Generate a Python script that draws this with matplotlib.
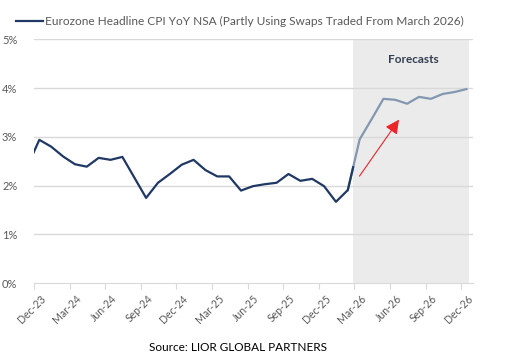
import matplotlib
matplotlib.use("Agg")
import matplotlib.pyplot as plt
import matplotlib.transforms as mtransforms
import numpy as np

# monthly CPI YoY (%), Nov-23 .. Feb-26 actual, Feb-26 .. Dec-26 forecast
hist_vals = [2.40, 2.94, 2.80, 2.60, 2.44, 2.39, 2.57, 2.53, 2.59, 2.17, 1.75,
             2.06, 2.24, 2.43, 2.53, 2.32, 2.19, 2.19, 1.90, 1.99, 2.03, 2.06,
             2.24, 2.10, 2.14, 1.99, 1.67, 1.91]
fcst_vals = [1.91, 2.95, 3.36, 3.78, 3.76, 3.68, 3.82, 3.78, 3.88, 3.92, 3.98]
tick_labels = ["Dec-23", "Mar-24", "Jun-24", "Sep-24", "Dec-24", "Mar-25", "Jun-25",
               "Sep-25", "Dec-25", "Mar-26", "Jun-26", "Sep-26", "Dec-26"]
yticks = [0, 1, 2, 3, 4, 5]

# x in months from Dec-23 tick; data points sit mid-month
off = 0.45
hx = np.arange(len(hist_vals)) - 1 + off
fx = np.arange(len(fcst_vals)) + 26 + off
shade_start, shade_end = 26.9, 36.65

navy = "#203864"
light = "#8497b0"
grey_txt = "#595959"

plt.rcParams["font.family"] = ["Lato", "DejaVu Sans"]

fig = plt.figure(figsize=(5.11, 3.59), dpi=100)
ax = fig.add_axes([0.0665, 0.2109, 0.8591, 0.6796])

ax.axvspan(shade_start, shade_end, color="#ebebeb", zorder=0, lw=0)
for y in yticks[1:]:
    ax.axhline(y, color="#d9d9d9", lw=1, zorder=1)

# dark line up to the start of the shaded area
edge_y = np.interp(shade_start, fx, fcst_vals)
dx = np.append(hx, shade_start)
dy = np.append(hist_vals, edge_y)
ax.plot(fx, fcst_vals, color=light, lw=1.6, zorder=3)
ax.plot(dx, dy, color=navy, lw=1.6, zorder=4,
        label="Eurozone Headline CPI YoY NSA (Partly Using Swaps Traded From March 2026)")

ax.annotate("", xy=(30.9, 3.40), xytext=(27.3, 2.15),
            arrowprops=dict(arrowstyle="-|>,head_length=0.6,head_width=0.3",
                            color="#e8262b", lw=0.8, mutation_scale=14), zorder=5)
ax.text(32.0, 4.58, "Forecasts", ha="center", va="center", fontsize=8.5,
        fontweight="bold", color="#333f50")

ax.set_xlim(0, 37)
ax.set_ylim(0, 5)
xt = np.arange(0, 37, 3)
ax.set_xticks(xt)
ax.set_xticklabels([])
# rotated date labels, hanging just right of each tick
shift = mtransforms.ScaledTranslation(6 / 100, -10 / 100, fig.dpi_scale_trans)
for x, lab in zip(xt, tick_labels):
    ax.text(x, 0, lab, transform=ax.get_xaxis_transform() + shift,
            rotation=45, ha="right", va="top", rotation_mode="anchor",
            fontsize=7.6, color=grey_txt, clip_on=False)
ax.set_yticks(yticks)
ax.set_yticklabels([f"{v}%" for v in yticks], fontsize=8, color=grey_txt)
ax.tick_params(axis="y", length=0, pad=12)
ax.tick_params(axis="x", length=4, color="#d9d9d9", pad=2)
for s in ["top", "right", "left"]:
    ax.spines[s].set_visible(False)
ax.spines["bottom"].set_color("#d9d9d9")

leg = ax.legend(loc="lower left", bbox_to_anchor=(-0.04, 1.05), frameon=False,
                fontsize=8.6, handlelength=2.2, handletextpad=0.2,
                borderaxespad=0, borderpad=0)
for t in leg.get_texts():
    t.set_color(grey_txt)

fig.text(0.466, 0.033, "Source: LIOR GLOBAL PARTNERS", ha="center", va="center",
         fontsize=8.5, color="black")

fig.savefig("out.png", dpi=100)
